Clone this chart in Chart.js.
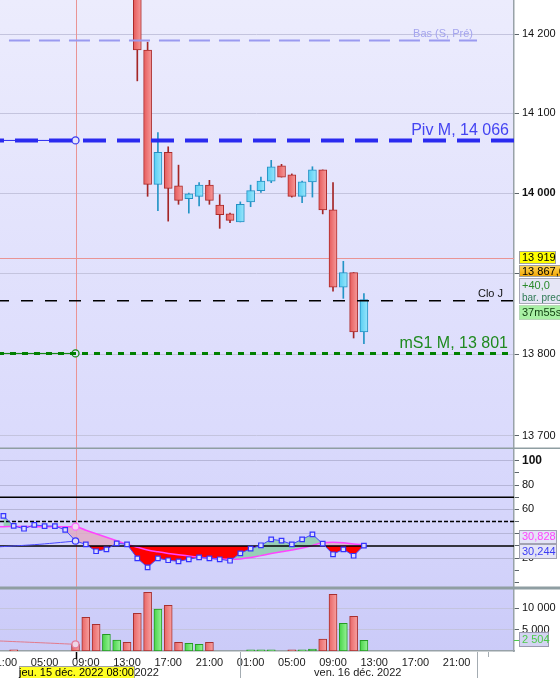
<!DOCTYPE html>
<html>
<head>
<meta charset="utf-8">
<title>DAX - 1 heure</title>
<script src="https://cdn.jsdelivr.net/npm/chart.js@4.4.1/dist/chart.umd.min.js"></script>
<style>
  html, body { margin: 0; padding: 0; background: #fff; }
  #wrap { position: relative; width: 560px; height: 678px; overflow: hidden; }
  #wrap canvas { position: absolute; left: 0; }
</style>
</head>
<body>
<div id="wrap">
  <canvas id="price" width="560" height="449" style="top:0"></canvas>
  <canvas id="rsi" width="560" height="139" style="top:449px"></canvas>
  <canvas id="vol" width="560" height="90" style="top:588px"></canvas>
</div>
<script>
// heures comptées depuis jeu. 15 déc. 2022 00:00
var xMin = 0.67, xMax = 50.57;
var crossHour = 8;
var crossPrice = 13919;

// bougies horaires
var candleHours = [14, 15, 16, 17, 18, 19, 20, 21, 22, 23, 24, 25, 26, 27, 28, 29, 30, 31, 32, 33, 34, 35, 36];
var opens  = [14290, 14180, 14011, 14051, 14009, 13993, 13996, 14010, 13985, 13974, 13964, 13989, 14003, 14015, 14034, 14023, 13996, 14014, 14029, 13979, 13883, 13901, 13827.6];
var highs  = [14300, 14190, 14076, 14058, 14035, 14000, 14013, 14016, 13998, 13975, 13989, 14010, 14020, 14041, 14036, 14024, 14015, 14033, 14029, 14013, 13915, 13901, 13875];
var lows   = [14141, 13996, 13978, 13965, 13986, 13975, 13984, 13986, 13956, 13963, 13964, 13983, 14001, 14013, 14020, 13995, 13988, 13995, 13974, 13878, 13869, 13820, 13813];
var closes = [14180, 14011, 14051, 14006, 13991, 13999, 14010, 13991, 13973, 13966, 13986, 14003, 14015, 14033, 14020, 13996, 14014, 14029, 13979, 13883, 13901, 13827.6, 13867.6];

// niveaux
var basSPre = 14192, basFrom = 1.54, basTo = 46.98;
var pivM = 14066;
var ms1M = 13801;
var cloJ = 13866;
var lastPrice = 13867.6;
var prevBarDiff = 40.0;
var timer = '37m55s';

// RSI
var rsiHours  = [1, 2, 3, 4, 5, 6, 7, 8, 9, 10, 11, 12, 13, 14, 15, 16, 17, 18, 19, 20, 21, 22, 23, 24, 25, 26, 27, 28, 29, 30, 31, 32, 33, 34, 35, 36];
var rsiValues = [54.6, 46.4, 44.1, 47.3, 46.3, 46.3, 43.1, 34.0, 31.3, 25.6, 27.2, 32.1, 31.3, 19.8, 12.4, 19.8, 18.2, 17.3, 19.0, 20.6, 19.8, 19.0, 17.8, 23.9, 27.7, 30.5, 35.4, 34.3, 31.3, 35.4, 39.5, 31.8, 23.1, 27.2, 21.9, 30.244];
var sigHours  = [0.5, 1, 2, 3, 4, 5, 6, 7, 8, 9, 10, 11, 12, 13, 14, 15, 16, 17, 18, 19, 20, 21, 22, 23, 24, 25, 26, 27, 28, 29, 30, 31, 32, 33, 34, 35, 36];
var sigValues = [45.8, 45.8, 45.9, 45.9, 45.8, 45.8, 45.8, 45.8, 45.8, 42.9, 40.0, 37.1, 34.2, 31.3, 28.9, 26.6, 25.1, 23.8, 22.7, 21.7, 20.7, 19.9, 19.3, 19.0, 19.3, 20.4, 22.0, 23.7, 25.2, 26.6, 28.2, 30.4, 32.5, 33.0, 32.6, 31.6, 30.828];
var rsiTrailHours = [0.5, 4, 6, 8];
var rsiTrail = [29.2, 31.0, 32.4, 34.0];
var rsiLevels = [70, 50, 30];

// volumes
var volHours  = [2, 8, 9, 10, 11, 12, 13, 14, 15, 16, 17, 18, 19, 20, 21, 25, 26, 27, 29, 30, 31, 32, 33, 34, 35, 36];
var volValues = [300, 1570, 7890, 6250, 3910, 2580, 2040, 8830, 13750, 9840, 10700, 2040, 1800, 1570, 2040, 250, 250, 250, 250, 250, 470, 2810, 13280, 6490, 8130, 2504];
var volUp     = [0, 0, 0, 0, 1, 1, 0, 0, 0, 1, 0, 0, 1, 1, 0, 1, 1, 1, 0, 1, 1, 0, 0, 1, 0, 1];
var volTrailHours = [0.5, 4, 8];
var volTrail = [2360, 2000, 1570];

// axes
var priceTicks = [13700, 13800, 13900, 14000, 14100, 14200];
var rsiTicks = [0, 10, 20, 30, 40, 50, 60, 70, 80, 90, 100];
var rsiLabels = [100, 80, 60, 20];
var volTicks = [5000, 10000];
var timeTicks = [1, 5, 9, 13, 17, 21, 25, 29, 33, 37, 41, 45];
var daySeparators = [24, 46.98];
var dayLabels = [{ h: 12.0, text: 'jeu. 15 déc. 2022' }, { h: 35.4, text: 'ven. 16 déc. 2022' }];
var crossLabel = 'jeu. 15 déc. 2022 08:00';

var FONT = "'Liberation Sans', Arial, sans-serif";

function fmt(v) { return String(v).replace(/\B(?=(\d{3})+(?!\d))/g, ' '); }
function hh(h) { var m = h % 24; return (m < 10 ? '0' : '') + m + ':00'; }
function flat(v, a, b) { return [{ x: a, y: v }, { x: b, y: v }]; }

function hGrad(ctx, c1, c2) {
  var chart = ctx.chart;
  if (!chart.chartArea || !ctx.raw) return c1;
  var x = chart.scales.x.getPixelForValue(ctx.raw.x);
  var g = chart.ctx.createLinearGradient(x - 4, 0, x + 4, 0);
  g.addColorStop(0, c1);
  g.addColorStop(1, c2);
  return g;
}

function candleUp(i) { return closes[i] >= opens[i]; }

function box(c, x, y, w, h, fill, stroke) {
  c.fillStyle = fill;
  c.fillRect(x, y, w, h);
  if (stroke) {
    c.strokeStyle = stroke;
    c.lineWidth = 1;
    c.strokeRect(x + 0.5, y + 0.5, w - 1, h - 1);
  }
}
function txt(c, s, x, y, color, font, align, base) {
  c.fillStyle = color;
  c.font = font;
  c.textAlign = align || 'left';
  c.textBaseline = base || 'middle';
  c.fillText(s, x, y);
}

function background(top, bottom) {
  return {
    id: 'panelBg',
    beforeDraw: function (chart) {
      var a = chart.chartArea, c = chart.ctx;
      var g = c.createLinearGradient(0, a.top, 0, a.bottom);
      g.addColorStop(0, top);
      g.addColorStop(1, bottom);
      c.save();
      c.fillStyle = g;
      c.fillRect(a.left, a.top, a.right - a.left, a.bottom - a.top);
      c.restore();
    }
  };
}

function crossLine(chart) {
  var a = chart.chartArea, c = chart.ctx;
  var x = Math.round(chart.scales.x.getPixelForValue(crossHour)) + 0.5;
  c.save();
  c.strokeStyle = '#e99494';
  c.lineWidth = 1;
  c.beginPath();
  c.moveTo(x, a.top);
  c.lineTo(x, a.bottom);
  c.stroke();
  c.restore();
}

function separator(chart, y) {
  var c = chart.ctx;
  c.save();
  c.strokeStyle = '#8f9ea2';
  c.lineWidth = 1.5;
  c.beginPath();
  c.moveTo(0, y);
  c.lineTo(chart.width, y);
  c.stroke();
  c.restore();
}

function xScale(show) {
  return {
    type: 'linear', min: xMin, max: xMax, offset: false, bounds: 'data', display: show,
    grid: { display: false, offset: false, drawTicks: false },
    border: { display: show, color: '#98a2a8', width: 1.5 },
    afterBuildTicks: function (s) { s.ticks = timeTicks.map(function (v) { return { value: v }; }); },
    afterFit: function (s) { if (show) { s.height = 27; } s.paddingLeft = 0; s.paddingRight = 0; s.paddingTop = 0; s.paddingBottom = 0; },
    ticks: {
      autoSkip: false, maxRotation: 0, padding: 5, color: '#1a1a1a',
      font: { family: FONT, size: 11 },
      callback: function (v) { return hh(v); }
    }
  };
}

function yScale(extra) {
  var s = {
    position: 'right', bounds: 'data', beginAtZero: false,
    afterFit: function (sc) { sc.width = 46; sc.paddingTop = 0; sc.paddingBottom = 0; sc.paddingLeft = 0; sc.paddingRight = 0; },
    border: { display: true, color: '#98a2a8', width: 1.5 },
    grid: { color: '#c4c4de', lineWidth: 1, drawTicks: true, tickLength: 5, tickColor: '#5c646a' }
  };
  for (var k in extra) s[k] = extra[k];
  return s;
}

var baseOptions = function () {
  return {
    responsive: false, animation: false, devicePixelRatio: 1, events: [],
    layout: { padding: 0, autoPadding: false },
    plugins: { legend: { display: false }, tooltip: { enabled: false } }
  };
};

// ---------- prix ----------
var priceOpts = baseOptions();
priceOpts.scales = {
  x: xScale(false),
  y: yScale({
    type: 'logarithmic', min: 13683.7, max: 14243.5,
    afterBuildTicks: function (s) { s.ticks = priceTicks.map(function (v) { return { value: v }; }); },
    ticks: {
      autoSkip: false, padding: 3, color: '#111',
      font: function (ctx) { return { family: FONT, size: 11, weight: ctx.tick && ctx.tick.value === 14000 ? 'bold' : 'normal' }; },
      callback: function (v) { return fmt(v); }
    }
  })
};

var priceOverlay = {
  id: 'priceOverlay',
  beforeDatasetsDraw: function (chart) {
    var a = chart.chartArea, c = chart.ctx;
    crossLine(chart);
    var y = Math.round(chart.scales.y.getPixelForValue(crossPrice)) + 0.5;
    c.save();
    c.strokeStyle = '#e99494';
    c.lineWidth = 1;
    c.beginPath();
    c.moveTo(a.left, y);
    c.lineTo(a.right, y);
    c.stroke();
    c.restore();
  },
  afterDraw: function (chart) {
    var c = chart.ctx, ys = chart.scales.y;
    c.save();
    txt(c, 'Bas (S, Pré)', 473, ys.getPixelForValue(basSPre) - 7, '#a4a4ee', '11px ' + FONT, 'right');
    txt(c, 'Piv M, ' + fmt(pivM), 509, ys.getPixelForValue(pivM) - 5, '#4444f2', '16px ' + FONT, 'right', 'alphabetic');
    txt(c, 'mS1 M, ' + fmt(ms1M), 508, ys.getPixelForValue(ms1M) - 5, '#1f8a1f', '16px ' + FONT, 'right', 'alphabetic');
    txt(c, 'Clo J', 503, ys.getPixelForValue(cloJ) - 4, '#111', '11px ' + FONT, 'right', 'alphabetic');

    var p = Math.round(ys.getPixelForValue(crossPrice));
    box(c, 519, p - 7, 37, 13, '#ffff00', '#a0a0a0');
    txt(c, fmt(crossPrice), 522, p - 0.5, '#000', '11px ' + FONT);
    var g = c.createLinearGradient(0, p + 7, 0, p + 19);
    g.addColorStop(0, '#ffd85a');
    g.addColorStop(1, '#f2a400');
    box(c, 519, p + 7, 44, 12, g, '#a0a0a0');
    txt(c, fmt(Math.floor(lastPrice)) + ',' + Math.round((lastPrice % 1) * 10), 522, p + 13.5, '#000', '11px ' + FONT);
    box(c, 519, p + 20, 44, 26, '#e6e6f6', '#a8a8b8');
    txt(c, '+' + prevBarDiff.toFixed(1).replace('.', ','), 522, p + 28, '#2b8a2b', '11px ' + FONT);
    txt(c, 'bar. prec.', 522, p + 40, '#2f7a55', '10px ' + FONT);
    box(c, 519, p + 47, 44, 15, '#a8f0a4', '#b8d8b8');
    txt(c, timer, 522, p + 55, '#0f3f0f', '11px ' + FONT);

    separator(chart, chart.height - 0.75);
    c.restore();
  }
};

var pointAtCross = function (r) { return function (ctx) { return ctx.raw && ctx.raw.x === crossHour ? r : 0; }; };

new Chart(document.getElementById('price'), {
  type: 'bar',
  data: {
    datasets: [
      { type: 'line', label: 'Bas (S, Pré)', data: flat(basSPre, basFrom, basTo), borderColor: '#9a9af0', borderWidth: 2, borderDash: [21, 9], pointRadius: 0, order: 0 },
      { type: 'line', label: 'Piv M', data: flat(pivM, xMin, xMax), borderColor: '#2a2af0', borderWidth: 4, borderDash: [23, 11], borderDashOffset: 19, pointRadius: 0, order: 0 },
      { type: 'line', label: 'Piv M curseur', data: flat(pivM, xMin, crossHour), borderColor: '#2a2af0', borderWidth: 1, pointRadius: pointAtCross(3.5), pointBackgroundColor: '#e6e6fa', pointBorderColor: '#3a3af0', pointBorderWidth: 1.3, order: 0 },
      { type: 'line', label: 'mS1 M', data: flat(ms1M, xMin, xMax), borderColor: '#008000', borderWidth: 3, borderDash: [6, 6], borderDashOffset: 2, pointRadius: 0, order: 0 },
      { type: 'line', label: 'mS1 M curseur', data: flat(ms1M, xMin, crossHour), borderColor: '#008000', borderWidth: 1, pointRadius: pointAtCross(3.5), pointBackgroundColor: '#e2e2fa', pointBorderColor: '#138a13', pointBorderWidth: 1.3, order: 0 },
      { type: 'line', label: 'Clo J', data: flat(cloJ, xMin, xMax), borderColor: '#000', borderWidth: 1.5, borderDash: [12, 12], borderDashOffset: 3, pointRadius: 0, order: 0 },
      {
        label: 'mèches',
        data: candleHours.map(function (h, i) { return { x: h, y: [lows[i], highs[i]] }; }),
        backgroundColor: function (ctx) { return ctx.dataIndex !== undefined && candleUp(ctx.dataIndex) ? '#2394c6' : '#a42626'; },
        barThickness: 1, borderWidth: 0, grouped: false, order: 3
      },
      {
        label: 'corps',
        data: candleHours.map(function (h, i) { return { x: h, y: [opens[i], closes[i]] }; }),
        backgroundColor: function (ctx) {
          var up = ctx.dataIndex !== undefined && candleUp(ctx.dataIndex);
          return up ? hGrad(ctx, '#56cdf2', '#9ae6fc') : hGrad(ctx, '#e65a5a', '#f69a9a');
        },
        borderColor: function (ctx) { return ctx.dataIndex !== undefined && candleUp(ctx.dataIndex) ? '#2590c4' : '#ab2a2a'; },
        borderWidth: 1, borderSkipped: false, barThickness: 8, grouped: false, order: 2
      }
    ]
  },
  options: priceOpts,
  plugins: [background('#ececfd', '#dadafc'), priceOverlay]
});

// ---------- RSI ----------
var rsiOpts = baseOptions();
rsiOpts.scales = {
  x: xScale(false),
  y: yScale({
    type: 'linear', min: -4.6, max: 109.6,
    afterBuildTicks: function (s) { s.ticks = rsiTicks.map(function (v) { return { value: v }; }); },
    grid: {
      color: function (ctx) { return ctx.tick && ctx.tick.value > 0 && ctx.tick.value % 20 === 0 ? '#b6b6d8' : 'rgba(0,0,0,0)'; },
      lineWidth: 1, drawTicks: true, tickLength: 5, tickColor: '#5c646a'
    },
    ticks: {
      autoSkip: false, padding: 3, color: '#111',
      font: function (ctx) { var b = ctx.tick && ctx.tick.value === 100; return { family: FONT, size: b ? 12 : 11, weight: b ? 'bold' : 'normal' }; },
      callback: function (v) { return rsiLabels.indexOf(v) >= 0 ? String(v) : ''; }
    }
  })
};

var rsiOverlay = {
  id: 'rsiOverlay',
  beforeDatasetsDraw: function (chart) { crossLine(chart); },
  afterDraw: function (chart) {
    var c = chart.ctx, ys = chart.scales.y;
    var p = Math.round(ys.getPixelForValue(rsiValues[rsiValues.length - 1]));
    c.save();
    box(c, 519, p - 16, 38, 14, '#e4e4f6', '#a2a2b2');
    txt(c, sigValues[sigValues.length - 1].toFixed(3).replace('.', ','), 522, p - 9, '#ff44ff', '11px ' + FONT);
    box(c, 519, p - 2, 38, 15, '#e4e4f6', '#a2a2b2');
    txt(c, rsiValues[rsiValues.length - 1].toFixed(3).replace('.', ','), 522, p + 5.5, '#3c3cf4', '11px ' + FONT);
    separator(chart, chart.height - 0.75);
    c.restore();
  }
};

var rsiData = rsiHours.map(function (h, i) { return { x: h, y: rsiValues[i] }; });
var sigData = sigHours.map(function (h, i) { return { x: h, y: sigValues[i] }; });

new Chart(document.getElementById('rsi'), {
  type: 'line',
  data: {
    datasets: [
      { label: 'signal', data: sigData, borderColor: '#ff44ff', borderWidth: 1.5, cubicInterpolationMode: 'monotone', pointRadius: pointAtCross(3.5), pointBackgroundColor: '#f2d8f2', pointBorderColor: '#ff66ff', pointBorderWidth: 1.3, fill: false, order: 2 },
      { label: 'RSI', data: rsiData, borderColor: '#4848ff', borderWidth: 1, pointStyle: function (ctx) { return ctx.raw && ctx.raw.x === crossHour ? 'circle' : 'rect'; }, pointRadius: 3.2, pointBackgroundColor: '#dcdcfb', pointBorderColor: '#3434ff', pointBorderWidth: 1.2, fill: false, order: 0 },
      { label: 'RSI / signal', data: rsiData, borderWidth: 0, pointRadius: 0, fill: { target: 0, above: 'rgba(140,206,170,0.85)', below: 'rgba(224,170,196,0.85)' }, order: 4 },
      { label: 'RSI < 30', data: rsiData, borderWidth: 0, pointRadius: 0, fill: { value: 30, above: 'rgba(0,0,0,0)', below: '#ff0000' }, order: 3 },
      { label: 'RSI curseur', data: rsiTrailHours.map(function (h, i) { return { x: h, y: rsiTrail[i] }; }), borderColor: '#4848ff', borderWidth: 1, tension: 0.4, pointRadius: 0, fill: false, order: 1 },
      { label: '70', data: flat(rsiLevels[0], xMin, xMax), borderColor: '#000', borderWidth: 1.5, pointRadius: 0, fill: false, order: 1 },
      { label: '50', data: flat(rsiLevels[1], xMin, xMax), borderColor: '#000', borderWidth: 1.5, borderDash: [4, 2], pointRadius: 0, fill: false, order: 1 },
      { label: '30', data: flat(rsiLevels[2], xMin, xMax), borderColor: '#000', borderWidth: 1.5, pointRadius: 0, fill: false, order: 1 }
    ]
  },
  options: rsiOpts,
  plugins: [background('#d9d9fc', '#d1d1fa'), rsiOverlay]
});

// ---------- volumes ----------
var volOpts = baseOptions();
volOpts.scales = {
  x: xScale(true),
  y: yScale({
    type: 'linear', min: 0, max: 14754,
    afterBuildTicks: function (s) { s.ticks = volTicks.map(function (v) { return { value: v }; }); },
    ticks: { autoSkip: false, padding: 3, color: '#111', font: { family: FONT, size: 11 }, callback: function (v) { return fmt(v); } }
  })
};

var volOverlay = {
  id: 'volOverlay',
  beforeDatasetsDraw: function (chart) { crossLine(chart); },
  afterDraw: function (chart) {
    var c = chart.ctx, xs = chart.scales.x, ys = chart.scales.y, a = chart.chartArea;
    c.save();
    c.strokeStyle = '#a4acb2';
    c.lineWidth = 1;
    daySeparators.forEach(function (h) {
      var x = Math.round(xs.getPixelForValue(h)) + 0.5;
      c.beginPath(); c.moveTo(x, a.bottom + 1); c.lineTo(x, chart.height); c.stroke();
    });
    var x48 = Math.round(xs.getPixelForValue(48)) + 0.5;
    c.beginPath(); c.moveTo(x48, a.bottom + 1); c.lineTo(x48, a.bottom + 6); c.stroke();
    dayLabels.forEach(function (d) {
      txt(c, d.text, xs.getPixelForValue(d.h), 85, '#1a1a1a', '11px ' + FONT, 'center');
    });
    var xc = Math.round(xs.getPixelForValue(crossHour)) + 0.5;
    c.strokeStyle = '#000';
    c.lineWidth = 1.5;
    c.beginPath(); c.moveTo(xc, a.bottom + 1); c.lineTo(xc, a.bottom + 8); c.stroke();
    box(c, Math.round(xc - 58), 78, 116, 13, '#ffff22', '#a0a0a0');
    txt(c, crossLabel, xc, 85, '#000', '11px ' + FONT, 'center');

    var last = volValues[volValues.length - 1];
    var p = Math.round(ys.getPixelForValue(last));
    c.strokeStyle = '#4ccc4c';
    c.lineWidth = 1;
    c.beginPath(); c.moveTo(514, p + 0.5); c.lineTo(519, p + 0.5); c.stroke();
    box(c, 519, p - 8, 30, 15, '#d4d4f2', '#9a9aae');
    txt(c, fmt(last), 522, p - 0.5, '#4ccc4c', '11px ' + FONT);
    separator(chart, 0.75);
    c.restore();
  }
};

new Chart(document.getElementById('vol'), {
  type: 'bar',
  data: {
    datasets: [
      { type: 'line', label: 'moyenne', data: volTrailHours.map(function (h, i) { return { x: h, y: volTrail[i] }; }), borderColor: '#e37b8c', borderWidth: 1, tension: 0.4, pointRadius: pointAtCross(3.5), pointBackgroundColor: '#eed6e6', pointBorderColor: '#e37b9c', pointBorderWidth: 1.3, order: 0 },
      {
        label: 'volume',
        data: volHours.map(function (h, i) { return { x: h, y: volValues[i] }; }),
        backgroundColor: function (ctx) {
          var up = ctx.dataIndex !== undefined && volUp[ctx.dataIndex];
          return up ? hGrad(ctx, '#46d446', '#9af29a') : hGrad(ctx, '#e86464', '#f8a2a2');
        },
        borderColor: function (ctx) { return ctx.dataIndex !== undefined && volUp[ctx.dataIndex] ? '#249a24' : '#a83030'; },
        borderWidth: 1, borderSkipped: false, barThickness: 8, grouped: false, order: 1
      }
    ]
  },
  options: volOpts,
  plugins: [background('#cfcffa', '#cbcbf8'), volOverlay]
});
</script>
</body>
</html>
